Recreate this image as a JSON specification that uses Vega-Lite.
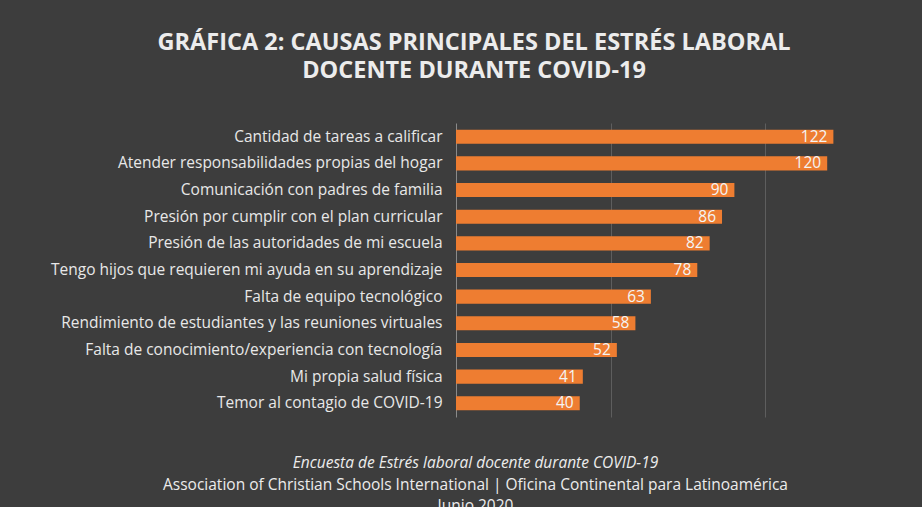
{
  "$schema": "https://vega.github.io/schema/vega-lite/v6.json",
  "width": 464,
  "height": 294,
  "autosize": "none",
  "padding": {"left": 456, "top": 123, "right": 2, "bottom": 90},
  "background": "#3d3d3d",
  "title": {
    "text": ["GRÁFICA 2: CAUSAS PRINCIPALES DEL ESTRÉS LABORAL", "DOCENTE DURANTE COVID-19"],
    "font": "Open Sans",
    "fontSize": 23.5,
    "fontWeight": "bold",
    "color": "#ececec",
    "lineHeight": 28,
    "anchor": "middle",
    "dx": -214,
    "offset": 41
  },
  "data": {
    "values": [
      {"causa": "Cantidad de tareas a calificar", "valor": 122},
      {"causa": "Atender responsabilidades propias del hogar ", "valor": 120},
      {"causa": "Comunicación con padres de familia ", "valor": 90},
      {"causa": "Presión por cumplir con el plan curricular", "valor": 86},
      {"causa": "Presión de las autoridades de mi escuela", "valor": 82},
      {"causa": "Tengo hijos que requieren mi ayuda en su aprendizaje", "valor": 78},
      {"causa": "Falta de equipo tecnológico", "valor": 63},
      {"causa": "Rendimiento de estudiantes y las reuniones virtuales", "valor": 58},
      {"causa": "Falta de conocimiento/experiencia con tecnología", "valor": 52},
      {"causa": "Mi propia salud física", "valor": 41},
      {"causa": "Temor al contagio de COVID-19", "valor": 40}
    ]
  },
  "encoding": {
    "y": {
      "field": "causa",
      "type": "nominal",
      "sort": null,
      "title": null,
      "scale": {"paddingInner": 0.47, "paddingOuter": 0.25},
      "axis": {
        "labelFont": "Open Sans",
        "labelFontSize": 15.5,
        "labelColor": "#e8e8e8",
        "labelPadding": 14,
        "labelLimit": 500,
        "ticks": false,
        "domainColor": "#8a8a8a",
        "domainWidth": 1
      }
    }
  },
  "layer": [
    {
      "mark": {"type": "bar", "color": "#EE7D31"},
      "encoding": {
        "x": {
          "field": "valor",
          "type": "quantitative",
          "scale": {"domain": [0, 150]},
          "axis": {
            "values": [50, 100],
            "labels": false,
            "ticks": false,
            "domain": false,
            "grid": true,
            "gridColor": "#5e5e5e",
            "title": ["Association of Christian Schools International | Oficina Continental para Latinoamérica", "Junio 2020"],
            "titleFont": "Open Sans",
            "titleFontSize": 15.5,
            "titleFontWeight": "normal",
            "titleColor": "#ececec",
            "titleLineHeight": 21,
            "titlePadding": 60,
            "titleX": 19,
            "titleAlign": "center"
          }
        }
      }
    },
    {
      "mark": {"type": "text", "align": "right", "baseline": "middle", "dx": -6, "font": "Open Sans", "fontSize": 15.5, "color": "#f4f4f4"},
      "encoding": {
        "x": {
          "field": "valor",
          "type": "quantitative",
          "scale": {"domain": [0, 150]},
          "axis": {
            "orient": "bottom",
            "labels": false,
            "ticks": false,
            "domain": false,
            "grid": false,
            "title": "Encuesta de Estrés laboral docente durante COVID-19",
            "titleFont": "Open Sans",
            "titleFontSize": 15.5,
            "titleFontWeight": "normal",
            "titleFontStyle": "italic",
            "titleColor": "#ececec",
            "titlePadding": 38,
            "titleX": 19,
            "titleAlign": "center"
          }
        },
        "text": {"field": "valor", "type": "quantitative"}
      }
    }
  ],
  "resolve": {"scale": {"x": "independent"}},
  "config": {"view": {"stroke": null}}
}
